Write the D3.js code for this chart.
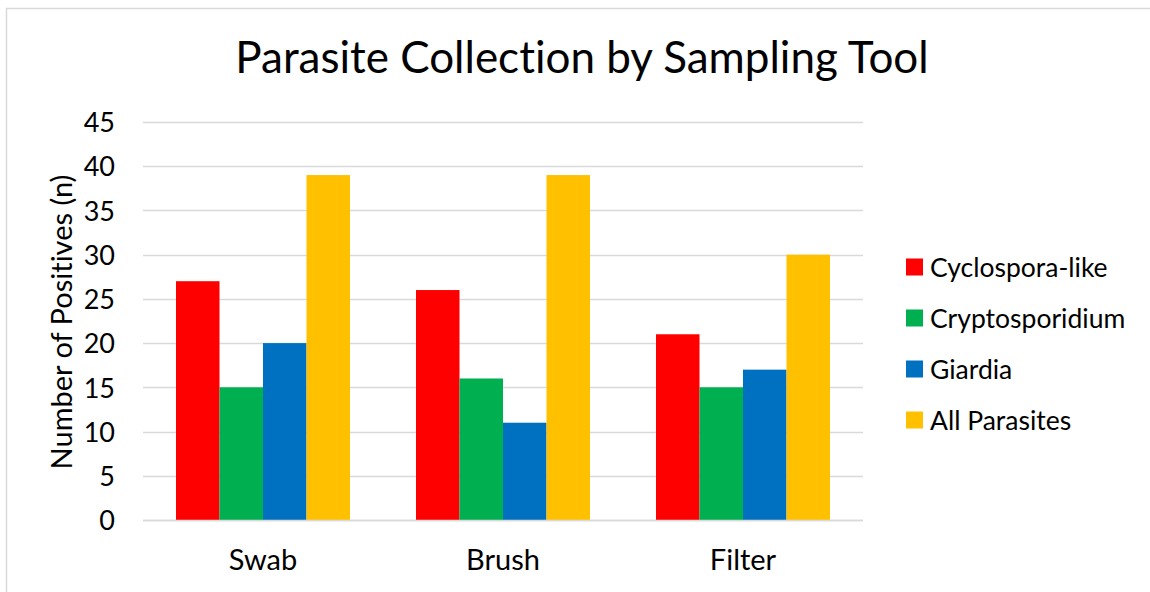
<!DOCTYPE html>
<html>
<head>
<meta charset="utf-8">
<script src="https://cdn.jsdelivr.net/npm/d3@7"></script>
<style>
  html, body { margin: 0; padding: 0; background: #fff; }
  svg { display: block; font-family: Lato, "Open Sans", sans-serif; font-variant-ligatures: none; }
</style>
</head>
<body>
<svg id="chart" width="1150" height="592"></svg>
<script>
// Sampling tools along the x axis
const tools = ["Swab", "Brush", "Filter"];
// Parasite series shown in each group
const parasites = ["Cyclospora-like", "Cryptosporidium", "Giardia", "All Parasites"];
const colors = ["#ff0000", "#00b050", "#0070c0", "#ffc000"];
// Number of positives per parasite, one value per tool
const cyclospora = [27, 26, 21];
const cryptosporidium = [15, 16, 15];
const giardia = [20, 11, 17];
const allParasites = [39, 39, 30];
const yTicks = [0, 5, 10, 15, 20, 25, 30, 35, 40, 45];

const seriesValues = [cyclospora, cryptosporidium, giardia, allParasites];

const svg = d3.select("#chart");
const plot = { left: 143, right: 863, top: 122, bottom: 520 };
const font = "Lato, 'Open Sans', sans-serif";

// outer chart frame
svg.append("rect")
  .attr("x", 6.5).attr("y", 8.5)
  .attr("width", 1160).attr("height", 600)
  .attr("fill", "none").attr("stroke", "#d9d9d9").attr("stroke-width", 1.5);

const x0 = d3.scaleBand().domain(tools).range([plot.left, plot.right]).paddingInner(0.275).paddingOuter(0.1375);
const x1 = d3.scaleBand().domain(parasites).range([0, x0.bandwidth()]);
const y = d3.scaleLinear().domain([0, 45]).range([plot.bottom, plot.top]);

// horizontal gridlines
svg.append("g")
  .selectAll("line")
  .data(yTicks)
  .join("line")
  .attr("x1", plot.left).attr("x2", plot.right)
  .attr("y1", d => Math.round(y(d)) + 0.5).attr("y2", d => Math.round(y(d)) + 0.5)
  .attr("stroke", "#d9d9d9").attr("stroke-width", 1.5);

// y axis labels
const yAxis = d3.axisLeft(y).tickValues(yTicks).tickSize(0).tickPadding(0);
const gy = svg.append("g").attr("transform", `translate(${plot.left - 28},0)`).call(yAxis);
gy.select(".domain").remove();
gy.selectAll("text").attr("font-size", 27).attr("fill", "#000").attr("font-family", font).attr("dy", "0.36em");

// bars
const groups = svg.append("g")
  .selectAll("g")
  .data(tools)
  .join("g")
  .attr("transform", d => `translate(${x0(d)},0)`);

groups.selectAll("rect")
  .data((d, i) => parasites.map((p, k) => ({ p, k, v: seriesValues[k][i] })))
  .join("rect")
  .attr("x", d => x1(d.p))
  .attr("width", x1.bandwidth())
  .attr("y", d => y(d.v))
  .attr("height", d => y(0) - y(d.v))
  .attr("fill", d => colors[d.k]);

// x axis labels
const xAxis = d3.axisBottom(x0).tickSize(0).tickPadding(0);
const gx = svg.append("g").attr("transform", `translate(0,570)`).call(xAxis);
gx.select(".domain").remove();
gx.selectAll("text").attr("font-size", 29).attr("fill", "#000").attr("font-family", font).attr("dy", "0");

// baseline
svg.append("line")
  .attr("x1", plot.left).attr("x2", plot.right)
  .attr("y1", plot.bottom + 0.5).attr("y2", plot.bottom + 0.5)
  .attr("stroke", "#d9d9d9").attr("stroke-width", 1.5);

// title
svg.append("text")
  .attr("x", 582).attr("y", 73)
  .attr("text-anchor", "middle")
  .attr("font-size", 44)
  .attr("fill", "#000")
  .text("Parasite Collection by Sampling Tool");

// y axis title
svg.append("text")
  .attr("transform", "translate(72,322) rotate(-90)")
  .attr("text-anchor", "middle")
  .attr("font-size", 29)
  .attr("fill", "#000")
  .text("Number of Positives (n)");

// legend
const legend = svg.append("g")
  .selectAll("g")
  .data(parasites)
  .join("g")
  .attr("transform", (d, i) => `translate(906,${267 + i * 51})`);
legend.append("rect")
  .attr("x", 0).attr("y", -8.5)
  .attr("width", 17).attr("height", 17)
  .attr("fill", (d, i) => colors[i]);
legend.append("text")
  .attr("x", 24).attr("y", 0).attr("dy", "0.36em")
  .attr("font-size", 26.5)
  .attr("fill", "#000")
  .text(d => d);
</script>
</body>
</html>
